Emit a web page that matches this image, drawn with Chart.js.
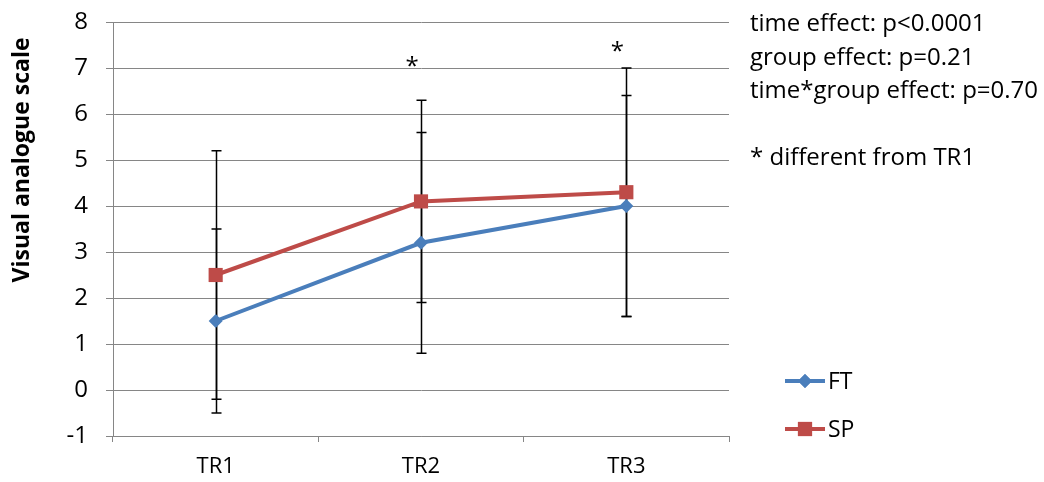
<!DOCTYPE html>
<html>
<head>
<meta charset="utf-8">
<script src="https://cdn.jsdelivr.net/npm/chart.js@4"></script>
<style>
  html, body { margin: 0; padding: 0; background: #fff; }
  #wrap { width: 1044px; height: 482px; position: relative; }
</style>
</head>
<body>
<div id="wrap"><canvas id="chart"></canvas></div>
<script>
// Data
const categories = ['TR1', 'TR2', 'TR3'];
const ftMean = [1.5, 3.2, 4.0];
const ftLow = [-0.5, 0.8, 1.6];
const ftHigh = [3.5, 5.6, 6.4];
const spMean = [2.5, 4.1, 4.3];
const spLow = [-0.2, 1.9, 1.6];
const spHigh = [5.2, 6.3, 7.0];
const starValues = [null, 7.02, 7.35];
const statsLines = ['time effect: p<0.0001', 'group effect: p=0.21', 'time*group effect: p=0.70', '', '* different from TR1'];
const yTitle = 'Visual analogue scale';

const FONT = '"Open Sans", sans-serif';
const BLUE = '#4A7EBB';
const RED = '#BE4B48';

// Error bars, drawn under the lines
const errorBars = {
    id: 'errorBars',
    beforeDatasetsDraw(chart) {
        const ctx = chart.ctx;
        const x = chart.scales.x;
        const y = chart.scales.y;
        const sets = [[ftLow, ftHigh], [spLow, spHigh]];
        ctx.save();
        ctx.strokeStyle = '#000';
        ctx.lineWidth = 1.5;
        sets.forEach(function (s) {
            for (let i = 0; i < categories.length; i++) {
                const px = Math.round(x.getPixelForValue(i)) + 0.5;
                const lo = y.getPixelForValue(s[0][i]);
                const hi = y.getPixelForValue(s[1][i]);
                ctx.beginPath();
                ctx.moveTo(px, lo);
                ctx.lineTo(px, hi);
                ctx.moveTo(px - 5, lo);
                ctx.lineTo(px + 5, lo);
                ctx.moveTo(px - 5, hi);
                ctx.lineTo(px + 5, hi);
                ctx.stroke();
            }
        });
        ctx.restore();
    }
};

// Stars, side text, custom legend and rotated axis title
const extras = {
    id: 'extras',
    afterDraw(chart) {
        const ctx = chart.ctx;
        const x = chart.scales.x;
        const y = chart.scales.y;
        ctx.save();

        // significance stars
        ctx.fillStyle = '#000';
        ctx.font = '24px ' + FONT;
        ctx.textAlign = 'center';
        ctx.textBaseline = 'middle';
        starValues.forEach(function (v, i) {
            if (v === null) return;
            ctx.fillText('*', x.getPixelForValue(i) - 9, y.getPixelForValue(v));
        });

        // statistics text
        ctx.font = '24px ' + FONT;
        ctx.textAlign = 'left';
        ctx.textBaseline = 'alphabetic';
        statsLines.forEach(function (t, i) {
            if (t) ctx.fillText(t, 750, 31 + i * 33.5);
        });

        // legend
        const entries = [
            { label: 'FT', color: BLUE, style: 'rectRot', r: 7, y: 381 },
            { label: 'SP', color: RED, style: 'rect', r: 10, y: 429 }
        ];
        entries.forEach(function (e) {
            ctx.strokeStyle = e.color;
            ctx.lineWidth = 4;
            ctx.beginPath();
            ctx.moveTo(785, e.y);
            ctx.lineTo(825, e.y);
            ctx.stroke();
            ctx.fillStyle = e.color;
            Chart.helpers.drawPoint(ctx, { pointStyle: e.style, radius: e.r, rotation: 0, borderWidth: 0 }, 805, e.y);
            ctx.fill();
            ctx.fillStyle = '#000';
            ctx.font = '23px ' + FONT;
            ctx.textBaseline = 'middle';
            ctx.fillText(e.label, 828, e.y + 1);
        });

        // y axis title
        ctx.translate(22, 160);
        ctx.rotate(-Math.PI / 2);
        ctx.font = 'bold 23px ' + FONT;
        ctx.textAlign = 'center';
        ctx.textBaseline = 'middle';
        ctx.fillStyle = '#000';
        ctx.fillText(yTitle, 0, 0);
        ctx.restore();
    }
};

const ctx = document.getElementById('chart').getContext('2d');
new Chart(ctx, {
    type: 'line',
    data: {
        labels: categories,
        datasets: [
            {
                label: 'FT',
                data: ftMean,
                borderColor: BLUE,
                backgroundColor: BLUE,
                borderWidth: 4,
                pointStyle: 'rectRot',
                pointRadius: 7,
                pointBorderWidth: 0,
                tension: 0
            },
            {
                label: 'SP',
                data: spMean,
                borderColor: RED,
                backgroundColor: RED,
                borderWidth: 4,
                pointStyle: 'rect',
                pointRadius: 10,
                pointBorderWidth: 0,
                tension: 0
            }
        ]
    },
    options: {
        responsive: true,
        maintainAspectRatio: false,
        animation: false,
        layout: { padding: { top: 22, right: 315, left: 0, bottom: 0 } },
        plugins: {
            legend: { display: false },
            tooltip: { enabled: false }
        },
        scales: {
            x: {
                offset: true,
                grid: {
                    offset: true,
                    drawOnChartArea: false,
                    drawTicks: true,
                    tickLength: 6,
                    color: '#868686'
                },
                border: { color: '#868686', width: 1 },
                ticks: {
                    color: '#000',
                    padding: 12,
                    font: { family: FONT, size: 22 }
                },
                afterFit(scale) {
                    scale.height = 46;
                    scale.paddingLeft = 0;
                    scale.paddingRight = 0;
                }
            },
            y: {
                min: -1,
                max: 8,
                ticks: {
                    stepSize: 1,
                    color: '#000',
                    padding: 18,
                    font: { family: FONT, size: 24 }
                },
                grid: {
                    color: '#868686',
                    lineWidth: 1,
                    tickLength: 7
                },
                border: { color: '#868686', width: 1 },
                afterFit(scale) {
                    scale.width = 113;
                    scale.paddingTop = 0;
                    scale.paddingBottom = 0;
                }
            }
        }
    },
    plugins: [errorBars, extras]
});
</script>
</body>
</html>
